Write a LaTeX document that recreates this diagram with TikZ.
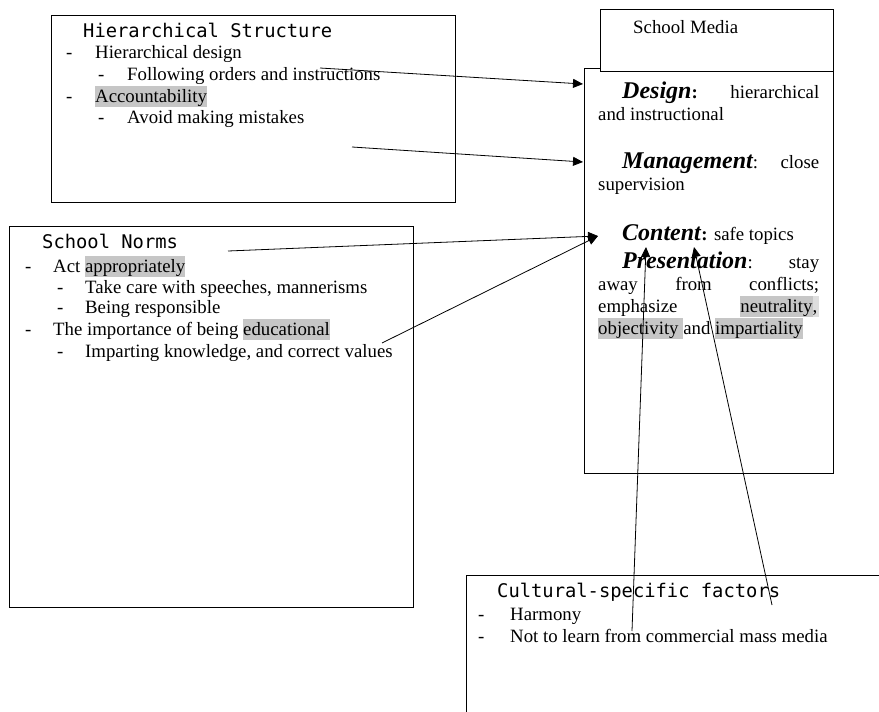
\documentclass[tikz,border=0pt]{standalone}
\usepackage{fontspec}
\setmainfont{Liberation Serif}
\setmonofont{DejaVu Sans Mono}
\usetikzlibrary{arrows.meta,positioning}
\definecolor{hlgray}{HTML}{C6C6C6}
\definecolor{hllight}{HTML}{DEDEDE}
\newcommand{\hilite}[2][hlgray]{{\setlength{\fboxsep}{0pt}\colorbox{#1}{\rule[-5pt]{0pt}{21pt}#2}}}
\newcommand{\keyword}[1]{{\fontsize{24}{22}\selectfont\bfseries\itshape #1}}
\newcommand{\dash}[1][29pt]{\makebox[#1][l]{-}}

\begin{document}
\begin{tikzpicture}[x=1pt,y=-1pt,>={Triangle[length=10pt,width=9pt]},
  box/.style={draw,line width=1.1pt,inner sep=0pt,anchor=north west},
  line/.style={anchor=base west,inner sep=0pt,font=\fontsize{18.8}{22}\selectfont},
  title/.style={anchor=base west,inner sep=0pt,font=\fontsize{18.8}{22}\selectfont\ttfamily},
  para/.style={anchor=base west,inner sep=0pt,text width=221pt,align=justify,
    font=\fontsize{18.8}{22}\selectfont},
  link/.style={->,line width=0.8pt}]
  \useasboundingbox (0,0) rectangle (879,712);
  \clip (0,0) rectangle (879,712);

  % Hierarchical Structure
  \node[box,minimum width=404pt,minimum height=187pt] (hs) at (51,15) {};
  \node[title] (hs-title) at (83,37) {Hierarchical Structure};
  \node[line] (hs-1) at (66,58) {\dash Hierarchical design};
  \node[line] (hs-1a) at (98,80) {\dash Following orders and instructions};
  \node[line] (hs-2) at (66,102) {\dash \hilite{Accountability}};
  \node[line] (hs-2a) at (98,123) {\dash Avoid making mistakes};

  % School Norms
  \node[box,line width=1.4pt,minimum width=404pt,minimum height=381pt] (sn) at (9,226) {};
  \node[title] (sn-title) at (42,248) {School Norms};
  \node[line] (sn-1) at (25,272) {\dash[28pt]Act \hilite{appropriately}};
  \node[line] (sn-1a) at (57,293) {\dash[28pt]Take care with speeches, mannerisms};
  \node[line] (sn-1b) at (57,313) {\dash[28pt]Being responsible};
  \node[line] (sn-2) at (25,335) {\dash[28pt]The importance of being \hilite{educational}};
  \node[line] (sn-2a) at (57,357) {\dash[28pt]Imparting knowledge, and correct values};

  % School Media
  \node[box,minimum width=249pt,minimum height=405pt] (media) at (584,68) {};
  \node[box,fill=white,minimum width=233pt,minimum height=62pt] (media-head) at (600,9) {};
  \node[line] (media-title) at (633,33) {School Media};
  \node[para] (design) at (598,98)
    {\hspace*{24pt}\keyword{Design}\textbf{:}\hfill hierarchical\\and instructional};
  \node[para] (mgmt) at (598,168)
    {\hspace*{24pt}\keyword{Management}:\hfill close\\supervision};
  \node[para] (content) at (598,240)
    {\hspace*{24pt}\keyword{Content}\textbf{:} safe topics};
  \node[para] (present) at (598,268)
    {\hspace*{24pt}\keyword{Presentation}:\hfill stay\\
     away\hfill from\hfill conflicts;\\
     emphasize\hfill\hilite{neutrality}\hilite[hllight]{,\kern2pt}\\
     \hilite{objectivity\ }and \hilite{impartiality}};

  % Cultural-specific factors
  \node[box,minimum width=500pt,minimum height=200pt] (cf) at (466,575) {};
  \node[title] (cf-title) at (497,597) {Cultural-specific factors};
  \node[line] (cf-1) at (478,620) {\dash[32pt]Harmony};
  \node[line] (cf-2) at (478,642) {\dash[32pt]Not to learn from commercial mass media};

  % free ends
  \coordinate (hs-a) at (320,68);
  \coordinate (hs-b) at (352,147);
  \coordinate (sn-a) at (228,251);
  \coordinate (sn-b) at (382,343);
  \coordinate (cf-a) at (632,631);
  \coordinate (cf-b) at (772,605);
  \coordinate (to-design) at (583,84);
  \coordinate (to-mgmt) at (583,162);
  \coordinate (to-content) at (598,236);
  \coordinate (to-content-a) at (646,247);
  \coordinate (to-content-b) at (694,247);

  \draw[link] (hs-a) -- (to-design);
  \draw[link] (hs-b) -- (to-mgmt);
  \draw[link] (sn-a) -- (to-content);
  \draw[link] (sn-b) -- (to-content);
  \draw[link] (cf-a) -- (to-content-a);
  \draw[link] (cf-b) -- (to-content-b);
\end{tikzpicture}
\end{document}
